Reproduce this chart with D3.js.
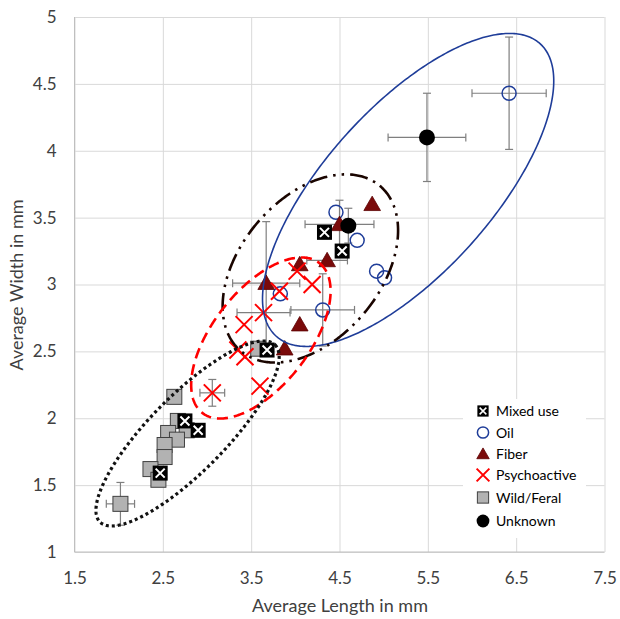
<!DOCTYPE html>
<html>
<head>
<meta charset="utf-8">
<script src="https://cdn.jsdelivr.net/npm/d3@7"></script>
<style>
  body { margin: 0; background: #fff; }
  svg { display: block; font-family: Lato, "Open Sans", sans-serif; }
</style>
</head>
<body>
<svg id="chart" width="620" height="619"></svg>
<script>
// series values (length, width in mm)
const mixedX = [4.33, 4.53, 3.68, 2.75, 2.90, 2.47];
const mixedY = [3.39, 3.25, 2.51, 1.98, 1.91, 1.59];
const oilX = [6.42, 4.46, 4.70, 4.92, 5.01, 4.31, 3.83];
const oilY = [4.43, 3.54, 3.33, 3.10, 3.05, 2.81, 2.93];
const fiberX = [4.87, 4.50, 4.36, 4.05, 3.67, 4.05, 3.88];
const fiberY = [3.60, 3.45, 3.18, 3.15, 3.01, 2.70, 2.52];
const psychoX = [3.06, 3.60, 3.35, 3.43, 3.42, 3.64, 3.82, 4.02, 4.19];
const psychoY = [2.19, 2.24, 2.51, 2.46, 2.70, 2.79, 2.95, 3.10, 3.00];
const wildX = [2.02, 2.63, 2.67, 2.77, 2.56, 2.66, 2.52, 2.52, 2.36, 2.45, 3.58];
const wildY = [1.36, 2.16, 1.98, 1.91, 1.89, 1.84, 1.80, 1.71, 1.62, 1.54, 2.52];
const unknownX = [5.49, 4.60];
const unknownY = [4.10, 3.44];

// error bars: point, +/- in length, +/- in width
const errX = [6.42, 5.49, 4.50, 4.60, 4.36, 3.67, 3.64, 4.31, 3.06, 2.02];
const errY = [4.43, 4.10, 3.45, 3.44, 3.18, 3.01, 2.79, 2.81, 2.19, 1.36];
const errDX = [0.42, 0.44, 0.39, 0, 0.23, 0.38, 0.30, 0.36, 0.14, 0.16];
const errDY = [0.42, 0.33, 0.18, 0.13, 0, 0.46, 0, 0.27, 0.10, 0.16];

// group ellipses: centre and two half axis vectors, in data units
const ellipseCX = [5.277, 4.17, 3.61, 2.78];
const ellipseCY = [3.707, 3.12, 2.60, 1.886];
const ellipseAX = [1.493, 0.786, 0.663, 0.991];
const ellipseAY = [1.094, 0.618, 0.560, 0.662];
const ellipseBX = [0.699, 0.607, 0.428, 0.306];
const ellipseBY = [-0.415, -0.336, -0.221, -0.200];

const xTicks = [1.5, 2.5, 3.5, 4.5, 5.5, 6.5, 7.5];
const yTicks = [1, 1.5, 2, 2.5, 3, 3.5, 4, 4.5, 5];
const legendNames = ["Mixed use", "Oil", "Fiber", "Psychoactive", "Wild/Feral", "Unknown"];

const svg = d3.select("#chart");
const x = d3.scaleLinear().domain([1.5, 7.5]).range([74.5, 604.5]);
const y = d3.scaleLinear().domain([1, 5]).range([552, 17]);

// gridlines
svg.append("g")
    .attr("transform", "translate(0,552)")
    .call(d3.axisBottom(x).tickValues(xTicks).tickSize(-535).tickFormat(""))
    .call(g => g.select(".domain").remove())
    .call(g => g.selectAll("line").attr("stroke", "#d9d9d9"));
svg.append("g")
    .attr("transform", "translate(74.5,0)")
    .call(d3.axisLeft(y).tickValues(yTicks).tickSize(-530).tickFormat(""))
    .call(g => g.select(".domain").remove())
    .call(g => g.selectAll("line").attr("stroke", "#d9d9d9"));
svg.append("line").attr("x1", 74.5).attr("x2", 74.5).attr("y1", 17).attr("y2", 552).attr("stroke", "#bfbfbf");
svg.append("line").attr("x1", 74.5).attr("x2", 604.5).attr("y1", 552).attr("y2", 552).attr("stroke", "#bfbfbf");

// tick labels
svg.append("g")
    .attr("transform", "translate(0,552)")
    .call(d3.axisBottom(x).tickValues(xTicks).tickSize(0).tickPadding(20).tickFormat(d3.format(".1f")))
    .call(g => g.select(".domain").remove())
    .call(g => g.selectAll("text").attr("font-size", 17).attr("fill", "#404040").attr("font-family", "Lato, sans-serif"));
svg.append("g")
    .attr("transform", "translate(74.5,0)")
    .call(d3.axisLeft(y).tickValues(yTicks).tickSize(0).tickPadding(18).tickFormat(d => d))
    .call(g => g.select(".domain").remove())
    .call(g => g.selectAll("text").attr("font-size", 17).attr("fill", "#404040").attr("font-family", "Lato, sans-serif"));

svg.append("text").attr("x", 340).attr("y", 612).attr("text-anchor", "middle")
    .attr("font-size", 18).attr("fill", "#404040").text("Average Length in mm");
svg.append("text").attr("transform", "translate(23,285) rotate(-90)").attr("text-anchor", "middle")
    .attr("font-size", 18).attr("fill", "#404040").text("Average Width in mm");

// error bars
const errs = d3.range(errX.length).map(i => ({x: errX[i], y: errY[i], dx: errDX[i], dy: errDY[i]}));
const eb = svg.append("g").attr("stroke", "#7f7f7f").attr("stroke-width", 1.2);
errs.forEach(e => {
    if (e.dx > 0) {
        eb.append("line").attr("x1", x(e.x - e.dx)).attr("x2", x(e.x + e.dx)).attr("y1", y(e.y)).attr("y2", y(e.y));
        [e.x - e.dx, e.x + e.dx].forEach(v => eb.append("line")
            .attr("x1", x(v)).attr("x2", x(v)).attr("y1", y(e.y) - 4).attr("y2", y(e.y) + 4));
    }
    if (e.dy > 0) {
        eb.append("line").attr("x1", x(e.x)).attr("x2", x(e.x)).attr("y1", y(e.y - e.dy)).attr("y2", y(e.y + e.dy));
        [e.y - e.dy, e.y + e.dy].forEach(v => eb.append("line")
            .attr("x1", x(e.x) - 4).attr("x2", x(e.x) + 4).attr("y1", y(v)).attr("y2", y(v)));
    }
});

// marker drawers, s = scale factor (legend uses smaller ones)
function drawMixed(g, s) {
    const h = 7.5 * s, k = 4.5 * s;
    g.append("rect").attr("x", -h).attr("y", -h).attr("width", 2 * h).attr("height", 2 * h).attr("fill", "#000");
    g.append("path").attr("d", `M${-k},${-k}L${k},${k}M${-k},${k}L${k},${-k}`).attr("stroke", "#fff").attr("stroke-width", 2 * s);
}
function drawOil(g, s) {
    g.append("circle").attr("r", 7 * s).attr("fill", "none").attr("stroke", "#1f3d99").attr("stroke-width", 1.5);
}
function drawFiber(g, s) {
    g.append("path").attr("d", d3.symbol(d3.symbolTriangle, 120 * s * s)()).attr("transform", `translate(0,${1.5 * s})`)
        .attr("fill", "#7a0a0a").attr("stroke", "#5c0000").attr("stroke-width", 0.8);
}
function drawPsycho(g, s) {
    const k = 8.5 * s;
    g.append("path").attr("d", `M${-k},${-k}L${k},${k}M${-k},${k}L${k},${-k}`).attr("stroke", "#ff0000").attr("stroke-width", 2);
}
function drawWild(g, s) {
    const h = 7.5 * s;
    g.append("rect").attr("x", -h).attr("y", -h).attr("width", 2 * h).attr("height", 2 * h)
        .attr("fill", "#b2b2b2").attr("stroke", "#404040").attr("stroke-width", 1);
}
function drawUnknown(g, s) {
    g.append("circle").attr("r", 8 * s).attr("fill", "#000");
}

function plotSeries(xs, ys, drawer) {
    const g = svg.append("g");
    g.selectAll("g").data(xs.map((v, i) => [v, ys[i]])).enter().append("g")
        .attr("transform", d => `translate(${x(d[0])},${y(d[1])})`)
        .each(function() { drawer(d3.select(this), 1); });
}
plotSeries(wildX, wildY, drawWild);
plotSeries(oilX, oilY, drawOil);
plotSeries(fiberX, fiberY, drawFiber);
plotSeries(psychoX, psychoY, drawPsycho);
plotSeries(mixedX, mixedY, drawMixed);
plotSeries(unknownX, unknownY, drawUnknown);

// ellipses around the groups
const ellipseStyle = [
    {stroke: "#1f3d99", width: 1.6, dash: null},
    {stroke: "#1a0500", width: 2.6, dash: "18,6,2.5,6,2.5,6"},
    {stroke: "#ff0000", width: 2.6, dash: "11,6"},
    {stroke: "#111", width: 3.2, dash: "3,3"}
];
const ellLine = d3.line().curve(d3.curveLinearClosed);
ellipseCX.forEach((cx, i) => {
    const pts = d3.range(0, 360, 1).map(a => {
        const t = a * Math.PI / 180;
        return [x(cx + ellipseAX[i] * Math.cos(t) + ellipseBX[i] * Math.sin(t)),
                y(ellipseCY[i] + ellipseAY[i] * Math.cos(t) + ellipseBY[i] * Math.sin(t))];
    });
    svg.append("path").attr("d", ellLine(pts)).attr("fill", "none")
        .attr("stroke", ellipseStyle[i].stroke).attr("stroke-width", ellipseStyle[i].width)
        .attr("stroke-dasharray", ellipseStyle[i].dash);
});

// legend
const legend = svg.append("g");
legend.append("rect").attr("x", 463).attr("y", 399).attr("width", 123).attr("height", 139).attr("fill", "#fff");
const legendDraw = [drawMixed, drawOil, drawFiber, drawPsycho, drawWild, drawUnknown];
const legendY = [411, 432.5, 454, 475, 497.5, 521];
legendNames.forEach((name, i) => {
    const g = legend.append("g").attr("transform", `translate(483,${legendY[i]})`);
    legendDraw[i](g, i === 1 || i === 5 ? 0.8 : 0.75);
    legend.append("text").attr("x", 496).attr("y", legendY[i] + 5).attr("font-size", 14)
        .attr("fill", "#000").text(name);
});
</script>
</body>
</html>
